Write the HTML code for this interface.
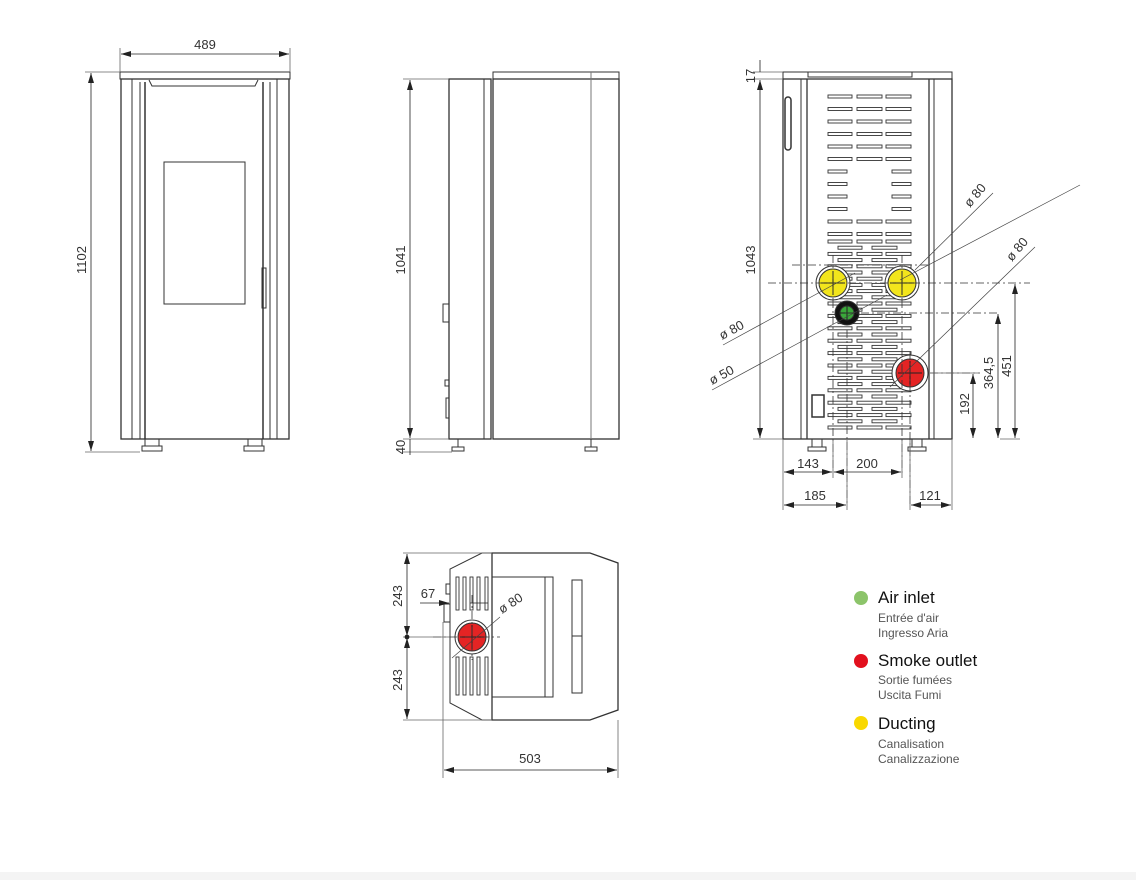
<!DOCTYPE html>
<html><head><meta charset="utf-8"><style>
html,body{margin:0;padding:0;background:#fff;width:1136px;height:880px;overflow:hidden}
svg{display:block}
text{font-family:"Liberation Sans",sans-serif;fill:#333}
.leg{font-family:"DejaVu Sans","Liberation Sans",sans-serif}
</style></head><body>
<svg id="s" width="1136" height="880" viewBox="0 0 1136 880" xmlns="http://www.w3.org/2000/svg">
<defs>
<marker id="a" viewBox="0 0 10 6" refX="10" refY="3" markerWidth="10" markerHeight="6" orient="auto-start-reverse" markerUnits="userSpaceOnUse"><path d="M0,0L10,3L0,6z" fill="#222"/></marker>
</defs>
<rect x="0" y="872" width="1136" height="8" fill="#f4f4f4"/>
<g fill="none" stroke="#333" stroke-width="1">
<!-- FRONT VIEW -->
<rect x="120" y="72" width="170" height="7" fill="#fff"/>
<rect x="121" y="79" width="168" height="360" stroke-width="1.3"/>
<line x1="132" y1="79" x2="132" y2="439"/><line x1="140" y1="82" x2="140" y2="439"/><line x1="145" y1="82" x2="145" y2="439" stroke-width="1.5"/>
<line x1="263" y1="82" x2="263" y2="439" stroke-width="1.5"/><line x1="270" y1="82" x2="270" y2="439"/><line x1="277" y1="79" x2="277" y2="439"/>
<path d="M149,80 L152,86 L255,86 L258,80"/>
<rect x="164" y="162" width="81" height="142"/>
<rect x="262" y="268" width="4" height="40"/>
<path d="M145,439v7h14v-7M248,439v7h14v-7"/>
<rect x="142" y="446" width="20" height="5"/><rect x="244" y="446" width="20" height="5"/>
<!-- SIDE VIEW -->
<rect x="493" y="72" width="126" height="7" fill="#fff"/>
<rect x="449" y="79" width="42" height="360" stroke-width="1.3"/>
<line x1="484" y1="79" x2="484" y2="439"/>
<rect x="493" y="79" width="126" height="360" stroke-width="1.3"/>
<line x1="591" y1="72" x2="591" y2="439" stroke="#777"/>
<rect x="443" y="304" width="6" height="18"/><rect x="445" y="380" width="4" height="6"/><rect x="446" y="398" width="3" height="20"/>
<path d="M458,439v8M591,439v8"/><rect x="452" y="447" width="12" height="4"/><rect x="585" y="447" width="12" height="4"/>
<!-- BACK VIEW -->
<rect x="783" y="72" width="169" height="7" fill="#fff"/>
<rect x="808" y="72" width="104" height="5"/>
<rect x="783" y="79" width="169" height="360" stroke-width="1.3"/>
<line x1="801" y1="79" x2="801" y2="439"/><line x1="807" y1="79" x2="807" y2="439" stroke-width="1.3"/>
<line x1="929" y1="79" x2="929" y2="439" stroke-width="1.3"/><line x1="934" y1="79" x2="934" y2="439"/>
<rect x="785" y="97" width="6" height="53" rx="3" stroke-width="1.5"/>
<g id="slots" stroke-width="0.9"></g>
<rect x="812" y="395" width="12" height="22" stroke-width="1.5"/>
<path d="M812,439v8h10v-8M912,439v8h10v-8"/><rect x="808" y="447" width="18" height="4"/><rect x="908" y="447" width="18" height="4"/>
<!-- TOP VIEW -->
<path d="M492,553H482L450,569V703L482,720H492Z" fill="#fff"/>
<path d="M492,553H590L618,563V710L590,720H492Z" stroke-width="1.3"/>
<rect x="492" y="577" width="61" height="120"/><line x1="545" y1="577" x2="545" y2="697"/>
<rect x="572" y="580" width="10" height="113"/><line x1="572" y1="636" x2="582" y2="636"/>
<rect x="444" y="604" width="6" height="18"/><rect x="446" y="584" width="4" height="10"/>
<g stroke-width="0.9">
<rect x="456" y="577" width="3" height="33"/><rect x="463" y="577" width="3" height="33"/><rect x="470" y="577" width="3" height="33"/><rect x="477" y="577" width="3" height="33"/><rect x="485" y="577" width="3" height="33"/>
<rect x="456" y="657" width="3" height="38"/><rect x="463" y="657" width="3" height="38"/><rect x="470" y="657" width="3" height="38"/><rect x="477" y="657" width="3" height="38"/><rect x="485" y="657" width="3" height="38"/>
</g>
</g>

<!-- circles -->
<g stroke="#333">
<circle cx="833" cy="283" r="17" fill="#fff"/><circle cx="833" cy="283" r="14" fill="#f2e51c"/>
<circle cx="902" cy="283" r="17" fill="#fff"/><circle cx="902" cy="283" r="14" fill="#f2e51c"/>
<circle cx="847" cy="313" r="12" fill="#111"/><circle cx="847" cy="313" r="7" fill="#3aa83a"/>
<circle cx="910" cy="373" r="18" fill="#fff"/><circle cx="910" cy="373" r="14" fill="#e42424"/>
<circle cx="472" cy="637" r="17" fill="#fff"/><circle cx="472" cy="637" r="14" fill="#e42424"/>
</g>
<g stroke="#222" stroke-width="1">
<path d="M821,283h24M833,271v24M890,283h24M902,271v24M840,313h14M847,306v14M898,373h24M910,361v24M460,637h24M472,625v24"/>
</g>
<g stroke="#333" stroke-width="0.8" stroke-dasharray="8,3,2,3" fill="none">
<path d="M768,283H1030M845,313H1000M930,373H980M792,265H930M833,255V300M902,255V300"/>
<path d="M847,330V505M910,352V505M833,300V475M902,300V475M433,637H500M472,595V660"/>
</g>

<!-- dimension lines -->
<g stroke="#666" stroke-width="0.8" fill="none">
<path d="M120,48V72M290,48V72M85,72H120M85,452H140M403,79H449M403,439H449M403,452H452"/>
<path d="M753,72H783M753,79H783M753,439H783M783,439V510M952,439V510M833,440V478M902,440V478M847,440V510M910,440V510M930,373H980M1000,439H1020"/>
<path d="M403,553H492M403,720H492M403,637H450M443,622V778M618,720V778"/>
</g>
<g stroke="#222" stroke-width="0.8" fill="none" marker-start="url(#a)" marker-end="url(#a)">
<line x1="121" y1="54" x2="289" y2="54"/>
<line x1="91" y1="73" x2="91" y2="451"/>
<line x1="410" y1="80" x2="410" y2="438"/>
<line x1="760" y1="80" x2="760" y2="438"/>
<line x1="1015" y1="284" x2="1015" y2="438"/>
<line x1="998" y1="314" x2="998" y2="438"/>
<line x1="973" y1="374" x2="973" y2="438"/>
<line x1="784" y1="472" x2="832" y2="472"/>
<line x1="834" y1="472" x2="901" y2="472"/>
<line x1="784" y1="505" x2="846" y2="505"/>
<line x1="911" y1="505" x2="951" y2="505"/>
<line x1="407" y1="554" x2="407" y2="636"/>
<line x1="407" y1="638" x2="407" y2="719"/>
<line x1="444" y1="770" x2="617" y2="770"/>
</g>
<g stroke="#222" stroke-width="0.8">
<path d="M410,439V455M760,60V72"/>
<line x1="420" y1="603" x2="449" y2="603" marker-end="url(#a)"/>
<line x1="470" y1="603" x2="488" y2="603"/>
<circle cx="407" cy="637" r="2" fill="#222"/>
</g>
<!-- leaders -->
<g stroke="#444" stroke-width="0.7" fill="none">
<line x1="723" y1="345" x2="855" y2="273"/>
<line x1="712" y1="390" x2="887" y2="295"/>
<line x1="993" y1="193" x2="915" y2="270"/>
<line x1="1080" y1="185" x2="900" y2="280"/>
<line x1="1035" y1="247" x2="890" y2="387"/>
<line x1="500" y1="617" x2="452" y2="658"/>
</g>

<!-- texts -->
<g font-size="13">
<text x="205" y="49" text-anchor="middle">489</text>
<text transform="translate(86,260) rotate(-90)" text-anchor="middle">1102</text>
<text transform="translate(405,260) rotate(-90)" text-anchor="middle">1041</text>
<text transform="translate(405,447) rotate(-90)" text-anchor="middle">40</text>
<text transform="translate(755,76) rotate(-90)" text-anchor="middle">17</text>
<text transform="translate(755,260) rotate(-90)" text-anchor="middle">1043</text>
<text transform="translate(1011,366) rotate(-90)" text-anchor="middle">451</text>
<text transform="translate(993,373) rotate(-90)" text-anchor="middle">364,5</text>
<text transform="translate(969,404) rotate(-90)" text-anchor="middle">192</text>
<text x="808" y="468" text-anchor="middle">143</text>
<text x="867" y="468" text-anchor="middle">200</text>
<text x="815" y="500" text-anchor="middle">185</text>
<text x="930" y="500" text-anchor="middle">121</text>
<text transform="translate(402,596) rotate(-90)" text-anchor="middle">243</text>
<text transform="translate(402,680) rotate(-90)" text-anchor="middle">243</text>
<text x="530" y="763" text-anchor="middle">503</text>
<text x="428" y="598" text-anchor="middle">67</text>
<text transform="translate(502,614) rotate(-33)">ø 80</text>
<text transform="translate(722,340) rotate(-28)">ø 80</text>
<text transform="translate(712,385) rotate(-28)">ø 50</text>
<text transform="translate(970,208) rotate(-50)">ø 80</text>
<text transform="translate(1012,262) rotate(-50)">ø 80</text>
</g>

<!-- legend -->
<g class="leg">
<circle cx="861" cy="598" r="7" fill="#8cc46a"/>
<text x="878" y="603" font-size="17" style="fill:#111">Air inlet</text>
<text x="878" y="622" font-size="12" style="fill:#555">Entrée d'air</text>
<text x="878" y="637" font-size="12" style="fill:#555">Ingresso Aria</text>
<circle cx="861" cy="661" r="7" fill="#e2101e"/>
<text x="878" y="666" font-size="17" style="fill:#111">Smoke outlet</text>
<text x="878" y="684" font-size="12" style="fill:#555">Sortie fumées</text>
<text x="878" y="699" font-size="12" style="fill:#555">Uscita Fumi</text>
<circle cx="861" cy="723" r="7" fill="#f9d800"/>
<text x="878" y="729" font-size="17" style="fill:#111">Ducting</text>
<text x="878" y="748" font-size="12" style="fill:#555">Canalisation</text>
<text x="878" y="763" font-size="12" style="fill:#555">Canalizzazione</text>
</g>
</svg>
<script>
var g=document.getElementById('slots'),h='';
function r(x,y,w){h+='<rect x="'+x+'" y="'+y+'" width="'+w+'" height="3"/>';}
for(var i=0;i<12;i++){var y=95+i*12.5;
 if(i>=6&&i<10){r(828,y,19);r(892,y,19);}else{r(828,y,24);r(857,y,25);r(886,y,25);}}
var k=0;for(var y=240;y<430;y+=6.2){if(k%2){r(838,y,24);r(872,y,25);}else{r(828,y,24);r(857,y,25);r(886,y,25);}k++;}
g.innerHTML=h;
</script>
</body></html>
